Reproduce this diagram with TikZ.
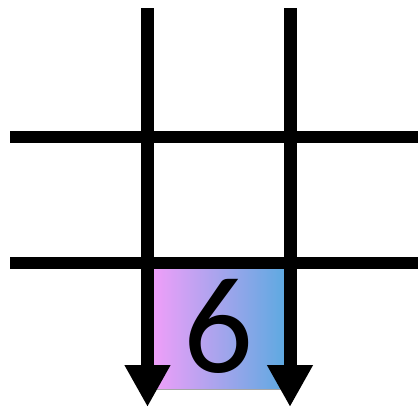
\documentclass[tikz,border=0pt]{standalone}
\usepackage{fontspec}
\setmainfont{Carlito}
\usetikzlibrary{arrows.meta,positioning,calc}
\definecolor{cellpink}{RGB}{246,158,250}
\definecolor{cellblue}{RGB}{88,170,224}

\begin{document}
\begin{tikzpicture}[x=1pt,y=-1pt,
  gridline/.style={line width=12.5pt},
  flowarrow/.style={line width=13pt,-{Triangle[length=42pt,width=43pt]}},
  cell/.style={draw=gray!70,line width=0.8pt,left color=cellpink,right color=cellblue,
               minimum width=143pt,minimum height=126pt,inner sep=0pt,
               font=\fontsize{138}{138}\selectfont}]
\useasboundingbox (0,0) rectangle (418,407);
\node[cell] (six) at (218.5,326) {6};
\coordinate (h1w) at (10,137);
\coordinate (h1e) at (418,137);
\coordinate (h2w) at (10,263);
\coordinate (h2e) at (418,263);
\coordinate (v1n) at (147.5,8);
\coordinate (v1s) at (147.5,407);
\coordinate (v2n) at (290,8);
\coordinate (v2s) at (290,407);
\draw[gridline] (h1w)--(h1e);
\draw[gridline] (h2w)--(h2e);
\draw[flowarrow] (v1n)--(v1s);
\draw[flowarrow] (v2n)--(v2s);
\end{tikzpicture}
\end{document}
